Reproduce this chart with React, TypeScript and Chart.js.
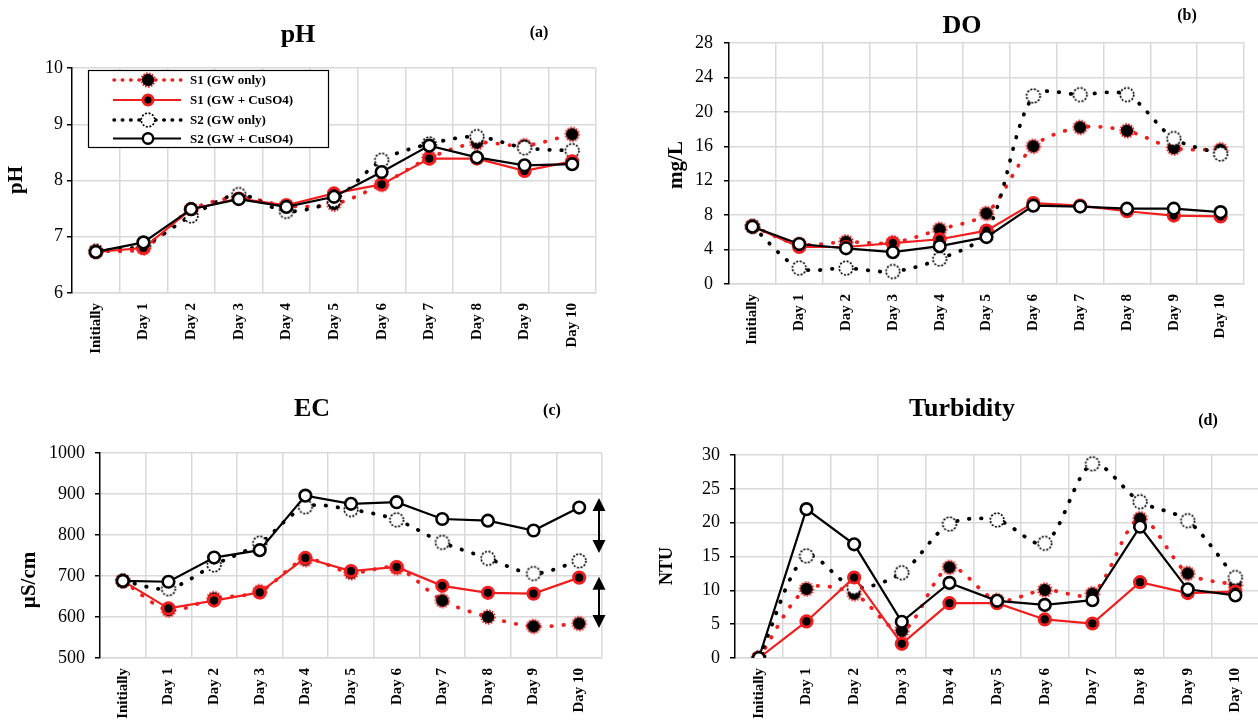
import React, { useEffect, useRef } from "react";
import { Chart, registerables } from "chart.js";

Chart.register(...registerables);

// ---------------- data ----------------
const categories = ["Initially", "Day 1", "Day 2", "Day 3", "Day 4", "Day 5", "Day 6", "Day 7", "Day 8", "Day 9", "Day 10"];
const seriesNames = ["S1 (GW only)", "S1 (GW + CuSO4)", "S2 (GW only)", "S2 (GW + CuSO4)"];

const phS1Gw = [6.74, 6.8, 7.48, 7.7, 7.55, 7.58, 7.93, 8.4, 8.67, 8.62, 8.82];
const phS1Cu = [6.73, 6.8, 7.49, 7.68, 7.56, 7.77, 7.93, 8.39, 8.39, 8.17, 8.34];
const phS2Gw = [6.74, 6.85, 7.37, 7.75, 7.45, 7.65, 8.36, 8.65, 8.78, 8.58, 8.53];
const phS2Cu = [6.73, 6.9, 7.49, 7.67, 7.53, 7.71, 8.15, 8.62, 8.41, 8.27, 8.29];

const doS1Gw = [6.7, 4.6, 4.9, 4.8, 6.35, 8.2, 16.0, 18.2, 17.8, 15.8, 15.6];
const doS1Cu = [6.7, 4.3, 4.3, 4.75, 5.2, 6.2, 9.4, 9.1, 8.45, 7.95, 7.85];
const doS2Gw = [6.7, 1.85, 1.85, 1.45, 2.9, 6.0, 21.85, 22.0, 22.0, 16.9, 15.1];
const doS2Cu = [6.66, 4.65, 4.15, 3.7, 4.4, 5.45, 9.1, 9.0, 8.75, 8.75, 8.35];

const ecS1Gw = [688, 617, 645, 662, 740, 708, 720, 640, 600, 577, 584];
const ecS1Cu = [688, 621, 640, 660, 744, 712, 722, 676, 659, 657, 696];
const ecS2Gw = [688, 669, 727, 780, 869, 862, 837, 782, 743, 706, 737];
const ecS2Cu = [688, 686, 745, 763, 896, 876, 880, 839, 835, 811, 867];
const ecArrowRanges = [[890, 756], [698, 573]];

const tuS1Gw = [0, 10.2, 9.5, 4.0, 13.4, 8.5, 10.05, 9.5, 20.6, 12.5, 10.8];
const tuS1Cu = [0, 5.4, 11.9, 2.1, 8.1, 8.1, 5.7, 5.1, 11.2, 9.6, 9.8];
const tuS2Gw = [0, 15.1, 10.45, 12.6, 19.8, 20.4, 16.95, 28.7, 23.1, 20.3, 11.9];
const tuS2Cu = [0, 22.0, 16.8, 5.35, 11.1, 8.45, 7.85, 8.55, 19.4, 10.15, 9.25];

// ---------------- styles ----------------
const SERIF = "'Liberation Serif', 'Times New Roman', serif";
const RED = "#f01e1e";
const GRID = "#d9d9d9";
const DOT_DASH = [0.5, 11.5];

function markerS1Gw(): HTMLCanvasElement {
  const c = document.createElement("canvas");
  c.width = 18;
  c.height = 18;
  const g = c.getContext("2d")!;
  g.beginPath();
  g.arc(9, 9, 6.2, 0, Math.PI * 2);
  g.fillStyle = "#000";
  g.fill();
  g.setLineDash([1.6, 1.4]);
  g.lineWidth = 1.8;
  g.strokeStyle = RED;
  g.beginPath();
  g.arc(9, 9, 6.8, 0, Math.PI * 2);
  g.stroke();
  return c;
}

function markerS2Gw(): HTMLCanvasElement {
  const c = document.createElement("canvas");
  c.width = 18;
  c.height = 18;
  const g = c.getContext("2d")!;
  g.beginPath();
  g.arc(9, 9, 6.8, 0, Math.PI * 2);
  g.fillStyle = "#fff";
  g.fill();
  g.setLineDash([2, 1.6]);
  g.lineWidth = 1.7;
  g.strokeStyle = "#000";
  g.stroke();
  return c;
}

type PanelCfg = {
  key: string;
  left: number;
  top: number;
  w: number;
  h: number;
  area: { left: number; top: number; right: number; bottom: number };
  title: string;
  titlePos: [number, number];
  letter: string;
  letterPos: [number, number];
  yTitle: string;
  yTitlePos: [number, number];
  yTitleSize: number;
  yMin: number;
  yMax: number;
  yStep: number;
  tickPad: number;
  series: number[][];
  legend?: boolean;
  arrows?: number[][];
};

const panels: PanelCfg[] = [
  {
    key: "ph", left: 0, top: 0, w: 629, h: 370,
    area: { left: 72, top: 68, right: 596, bottom: 293 },
    title: "pH", titlePos: [298, 42], letter: "(a)", letterPos: [539, 33],
    yTitle: "pH", yTitlePos: [17, 180], yTitleSize: 21,
    yMin: 6, yMax: 10, yStep: 1, tickPad: 4,
    series: [phS1Gw, phS1Cu, phS2Gw, phS2Cu], legend: true,
  },
  {
    key: "do", left: 629, top: 0, w: 629, h: 370,
    area: { left: 100, top: 43, right: 615, bottom: 284 },
    title: "DO", titlePos: [333, 33], letter: "(b)", letterPos: [558, 16],
    yTitle: "mg/L", yTitlePos: [48, 165], yTitleSize: 21,
    yMin: 0, yMax: 28, yStep: 4, tickPad: 11,
    series: [doS1Gw, doS1Cu, doS2Gw, doS2Cu],
  },
  {
    key: "ec", left: 0, top: 370, w: 629, h: 350,
    area: { left: 100, top: 83, right: 602, bottom: 288 },
    title: "EC", titlePos: [312, 46], letter: "(c)", letterPos: [552, 41],
    yTitle: "µS/cm", yTitlePos: [30, 210], yTitleSize: 21,
    yMin: 500, yMax: 1000, yStep: 100, tickPad: 10,
    series: [ecS1Gw, ecS1Cu, ecS2Gw, ecS2Cu], arrows: ecArrowRanges,
  },
  {
    key: "tu", left: 629, top: 370, w: 640, h: 350,
    area: { left: 106, top: 85, right: 633, bottom: 288 },
    title: "Turbidity", titlePos: [333, 46], letter: "(d)", letterPos: [579, 51],
    yTitle: "NTU", yTitlePos: [38, 196], yTitleSize: 18,
    yMin: 0, yMax: 30, yStep: 5, tickPad: 10,
    series: [tuS1Gw, tuS1Cu, tuS2Gw, tuS2Cu],
  },
];

function drawLegend(ctx: CanvasRenderingContext2D, m1: HTMLCanvasElement, m3: HTMLCanvasElement) {
  const box = { x: 88, y: 70, w: 240, h: 77 };
  ctx.save();
  ctx.fillStyle = "#fff";
  ctx.fillRect(box.x, box.y, box.w, box.h);
  ctx.strokeStyle = "#000";
  ctx.lineWidth = 1.2;
  ctx.strokeRect(box.x + 0.5, box.y + 0.5, box.w, box.h);
  const rows = [80, 100, 120, 138.5];
  rows.forEach((ry, i) => {
    const dotted = i === 0 || i === 2;
    const color = i < 2 ? RED : "#000";
    ctx.save();
    ctx.strokeStyle = color;
    ctx.lineCap = dotted ? "round" : "butt";
    ctx.lineWidth = dotted ? 3.5 : 2.2;
    ctx.setLineDash(dotted ? [0.5, 7.8] : []);
    ctx.beginPath();
    ctx.moveTo(dotted ? 114 : 113, ry);
    ctx.lineTo(181, ry);
    ctx.stroke();
    ctx.restore();
    const mx = 148;
    if (i === 0) ctx.drawImage(m1, mx - 9, ry - 9);
    else if (i === 2) ctx.drawImage(m3, mx - 9, ry - 9);
    else if (i === 1) {
      ctx.beginPath();
      ctx.arc(mx, ry, 5, 0, Math.PI * 2);
      ctx.fillStyle = "#000";
      ctx.fill();
      ctx.lineWidth = 3;
      ctx.strokeStyle = RED;
      ctx.stroke();
    } else {
      ctx.beginPath();
      ctx.arc(mx, ry, 5.2, 0, Math.PI * 2);
      ctx.fillStyle = "#fff";
      ctx.fill();
      ctx.lineWidth = 2.5;
      ctx.strokeStyle = "#000";
      ctx.stroke();
    }
    ctx.fillStyle = "#000";
    ctx.font = `bold 13px ${SERIF}`;
    ctx.textAlign = "left";
    ctx.textBaseline = "middle";
    ctx.fillText(seriesNames[i], 190, ry + 1);
  });
  ctx.restore();
}

function Panel({ cfg }: { cfg: PanelCfg }) {
  const ref = useRef<HTMLCanvasElement>(null);
  useEffect(() => {
    const m1 = markerS1Gw();
    const m3 = markerS2Gw();
    const textPlugin = {
      id: "panelText" + cfg.key,
      afterDatasetsDraw(chart: any) {
        const ctx: CanvasRenderingContext2D = chart.ctx;
        if (cfg.arrows) {
          const ys = chart.scales.y;
          const ax = chart.chartArea.right - 3;
          ctx.save();
          ctx.fillStyle = "#000";
          ctx.strokeStyle = "#000";
          ctx.lineWidth = 2;
          cfg.arrows.forEach(([hi, lo]) => {
            const y1 = ys.getPixelForValue(hi);
            const y2 = ys.getPixelForValue(lo);
            const hh = 13;
            const hw = 6.5;
            ctx.beginPath();
            ctx.moveTo(ax, y1 + hh - 1);
            ctx.lineTo(ax, y2 - hh + 1);
            ctx.stroke();
            ctx.beginPath();
            ctx.moveTo(ax, y1);
            ctx.lineTo(ax - hw, y1 + hh);
            ctx.lineTo(ax + hw, y1 + hh);
            ctx.closePath();
            ctx.fill();
            ctx.beginPath();
            ctx.moveTo(ax, y2);
            ctx.lineTo(ax - hw, y2 - hh);
            ctx.lineTo(ax + hw, y2 - hh);
            ctx.closePath();
            ctx.fill();
          });
          ctx.restore();
        }
      },
      afterDraw(chart: any) {
        const ctx: CanvasRenderingContext2D = chart.ctx;
        ctx.save();
        ctx.fillStyle = "#000";
        ctx.textAlign = "center";
        ctx.textBaseline = "alphabetic";
        ctx.font = `bold 26px ${SERIF}`;
        ctx.fillText(cfg.title, cfg.titlePos[0], cfg.titlePos[1]);
        ctx.font = `bold 16px ${SERIF}`;
        ctx.textBaseline = "middle";
        ctx.fillText(cfg.letter, cfg.letterPos[0], cfg.letterPos[1]);
        ctx.save();
        ctx.translate(cfg.yTitlePos[0], cfg.yTitlePos[1]);
        ctx.rotate(-Math.PI / 2);
        ctx.font = `bold ${cfg.yTitleSize}px ${SERIF}`;
        ctx.fillText(cfg.yTitle, 0, 0);
        ctx.restore();
        ctx.restore();
        if (cfg.legend) drawLegend(ctx, m1, m3);
      },
    };

    const [s1g, s1c, s2g, s2c] = cfg.series;
    const datasets: any[] = [
      {
        label: seriesNames[0], data: s1g, borderColor: RED, borderWidth: 3.8,
        borderDash: DOT_DASH, borderCapStyle: "round", tension: 0.3,
        pointStyle: m1, pointRadius: 6, order: 4,
      },
      {
        label: seriesNames[1], data: s1c, borderColor: RED, borderWidth: 2.2, tension: 0,
        pointStyle: "circle", pointRadius: 5.6, pointBackgroundColor: "#000",
        pointBorderColor: RED, pointBorderWidth: 3, order: 2,
      },
      {
        label: seriesNames[2], data: s2g, borderColor: "#000", borderWidth: 3.8,
        borderDash: DOT_DASH, borderCapStyle: "round", tension: 0.3,
        pointStyle: m3, pointRadius: 6, order: 3,
      },
      {
        label: seriesNames[3], data: s2c, borderColor: "#000", borderWidth: 2.2, tension: 0,
        pointStyle: "circle", pointRadius: 5.8, pointBackgroundColor: "#fff",
        pointBorderColor: "#000", pointBorderWidth: 2.6, order: 1,
      },
    ];

    const a = cfg.area;
    const chart = new Chart(ref.current!, {
      type: "line",
      data: { labels: categories, datasets },
      options: {
        animation: false,
        responsive: false,
        maintainAspectRatio: false,
        devicePixelRatio: 1,
        events: [],
        layout: { padding: { top: a.top, right: cfg.w - a.right, left: 0, bottom: 0 } },
        plugins: { legend: { display: false }, title: { display: false }, tooltip: { enabled: false } },
        scales: {
          x: {
            type: "category",
            offset: true,
            grid: {
              display: true,
              offset: true,
              color: (c: any) => (c.index === 0 ? "rgba(0,0,0,0)" : GRID),
              lineWidth: 1.5,
              drawTicks: false,
            },
            border: { display: true, color: GRID, width: 1.5 },
            ticks: {
              autoSkip: false,
              maxRotation: 90,
              minRotation: 90,
              padding: 10,
              color: "#000",
              font: { family: SERIF, size: 15, weight: "bold" },
            },
            afterFit: (s: any) => {
              s.height = cfg.h - a.bottom;
            },
          },
          y: {
            min: cfg.yMin,
            max: cfg.yMax,
            ticks: {
              stepSize: cfg.yStep,
              padding: cfg.tickPad,
              color: "#000",
              font: { family: SERIF, size: 18 },
              callback: (v: any) => String(v),
            },
            grid: { color: GRID, lineWidth: 1.5, tickColor: "#000", tickLength: 5, tickWidth: 1.5 },
            border: { display: true, color: "#000", width: 1.5 },
            afterFit: (s: any) => {
              s.width = a.left;
            },
          },
        },
      } as any,
      plugins: [textPlugin],
    });
    return () => chart.destroy();
  }, []);
  return (
    <canvas
      ref={ref}
      width={cfg.w}
      height={cfg.h}
      style={{ position: "absolute", left: cfg.left, top: cfg.top, width: cfg.w, height: cfg.h }}
    />
  );
}

export default function App() {
  return (
    <div
      style={{
        position: "absolute",
        left: 0,
        top: 0,
        width: 1258,
        height: 720,
        overflow: "hidden",
        background: "#fff",
      }}
    >
      {panels.map((p) => (
        <Panel key={p.key} cfg={p} />
      ))}
    </div>
  );
}
